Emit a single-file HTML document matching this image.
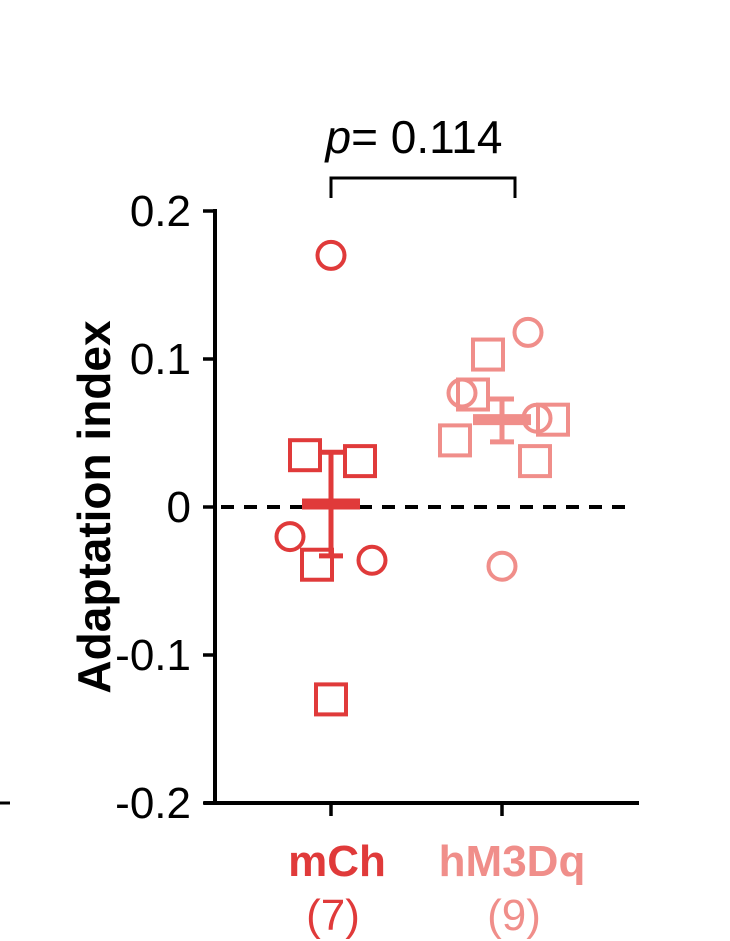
<!DOCTYPE html>
<html><head><meta charset="utf-8"><style>
body{margin:0;background:#fff;}
svg{display:block;font-family:"Liberation Sans",sans-serif;}
</style></head><body>
<svg id="chart" width="730" height="941" viewBox="0 0 730 941">
<line x1="0" y1="803" x2="10" y2="803" stroke="#000" stroke-width="3"/>
<g id="yaxis"></g>
<line x1="204" y1="803" x2="639" y2="803" stroke="#000" stroke-width="4"/>
<text transform="translate(110,507) rotate(-90)" text-anchor="middle" font-size="46" font-weight="bold" fill="#000">Adaptation index</text>
<g>
<path d="M331,198 V178 H515 V198" fill="none" stroke="#000" stroke-width="3"/>
<text x="414" y="153" text-anchor="middle" font-size="46" fill="#000"><tspan font-style="italic">p</tspan>= 0.114</text>
</g>
<g id="marks"></g>
</svg>
<script>
const categories = ["mCh", "hM3Dq"];
const counts = [7, 9];
const colors = ["#e03a3a", "#f08e8a"];
const yTicks = [0.2, 0.1, 0, -0.1, -0.2];
const yTickLabels = ["0.2", "0.1", "0", "-0.1", "-0.2"];
const mChValues = [0.17, 0.035, 0.031, -0.02, -0.039, -0.036, -0.13];
const mChShapes = ["c","s","s","c","s","c","s"];
const mChJitter = [0, -26, 29, -41, -14, 41, 0];
const hValues = [0.118, 0.103, 0.077, 0.076, 0.045, 0.06, 0.059, 0.031, -0.04];
const hShapes = ["c","s","c","s","s","c","s","s","c"];
const hJitter = [26, -14, -40, -29, -47, 35, 51, 33, 0];
const means = [0.002, 0.059];
const errLow = [-0.033, 0.044];
const errHigh = [0.037, 0.073];

const NS = "http://www.w3.org/2000/svg";
const y = v => 507 - v * 1480;
const xc = i => [331, 502][i];
function mk(tag, attrs, parent) {
  const e = document.createElementNS(NS, tag);
  for (const k in attrs) e.setAttribute(k, attrs[k]);
  parent.appendChild(e);
  return e;
}
const ya = document.getElementById("yaxis");
const marks = document.getElementById("marks");
mk("line", {x1:215, y1:y(0.2)-2, x2:215, y2:y(-0.2)+2, stroke:"#000", "stroke-width":4}, ya);
yTicks.forEach((t, i) => {
  const l = mk("line", {x1:203, x2:215, y1:y(t), y2:y(t), stroke:"#000", "stroke-width":3.5}, ya);
  
  
  const tx = mk("text", {x:191, y:y(t)+15, "text-anchor":"end", "font-size":44, fill:"#000"}, ya);
  
  
  tx.textContent = yTickLabels[i];
});
const zl = mk("line", {x1:221, x2:632, y1:y(0), y2:y(0), stroke:"#000", "stroke-width":4, "stroke-dasharray":"13,10"}, marks);



categories.forEach((c, i) => {
  const t = mk("line", {x1:xc(i), x2:xc(i), y1:803, y2:816, stroke:"#000", "stroke-width":3.5}, marks);
  
  
  const lab = mk("text", {x:xc(i)+(i?10:6), y:876, "text-anchor":"middle", "font-size":44, "font-weight":"bold", fill:colors[i]}, marks);
  
  
  lab.textContent = c;
  const n = mk("text", {x:xc(i)+(i?12:2), y:930, "text-anchor":"middle", "font-size":44, fill:colors[i]}, marks);
  
  
  n.textContent = "(" + counts[i] + ")";
});

function drawPoints(vals, shapes, jit, gi) {
  vals.forEach((v, k) => {
    const cx = xc(gi) + jit[k], cy = y(v);
    let e;
    if (shapes[k] === "c") e = mk("circle", {cx, cy, r:13.5, fill:"none", stroke:colors[gi], "stroke-width":4}, marks);
    else e = mk("rect", {x:cx-15, y:cy-15, width:30, height:30, fill:"none", stroke:colors[gi], "stroke-width":4}, marks);
    
    
  });
}
drawPoints(mChValues, mChShapes, mChJitter, 0);
drawPoints(hValues, hShapes, hJitter, 1);

means.forEach((m, i) => {
  const x = xc(i);
  const g = mk("g", {stroke:colors[i]}, marks);
  
  
  mk("line", {x1:x, x2:x, y1:y(errHigh[i]), y2:y(errLow[i]), "stroke-width":5}, g);
  mk("line", {x1:x-12, x2:x+12, y1:y(errHigh[i]), y2:y(errHigh[i]), "stroke-width":5}, g);
  mk("line", {x1:x-12, x2:x+12, y1:y(errLow[i]), y2:y(errLow[i]), "stroke-width":5}, g);
  mk("line", {x1:x-29, x2:x+29, y1:y(m), y2:y(m), "stroke-width":11}, g);
});
</script>
</body></html>
